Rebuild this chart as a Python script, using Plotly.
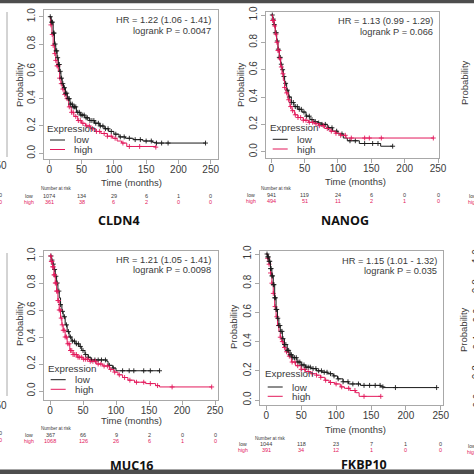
import numpy as np
import plotly.graph_objects as go

W = H = 474

# ---------------- data ----------------
GENES = ["CLDN4", "NANOG", "MUC16", "FKBP10"]
HR_TEXT = ["HR = 1.22 (1.06 - 1.41)", "HR = 1.13 (0.99 - 1.29)",
           "HR = 1.21 (1.05 - 1.41)", "HR = 1.15 (1.01 - 1.32)"]
P_TEXT = ["logrank P = 0.0047", "logrank P = 0.066",
          "logrank P = 0.0098", "logrank P = 0.035"]
TIME_TICKS = [0, 50, 100, 150, 200, 250]
PROB_TICKS = [0.0, 0.2, 0.4, 0.6, 0.8, 1.0]
PROB_LABELS = ["0.0", "0.2", "0.4", "0.6", "0.8", "1.0"]

RISK_LOW = [[1074, 134, 29, 6, 1, 0], [941, 119, 24, 6, 0, 0],
            [367, 66, 9, 2, 0, 0], [1044, 118, 23, 7, 1, 0]]
RISK_HIGH = [[361, 38, 6, 2, 0, 0], [494, 51, 11, 2, 1, 0],
             [1068, 126, 26, 6, 1, 0], [391, 34, 12, 1, 0, 0]]

# CLDN4
cldn4_low_t = [0, 3, 6, 8, 10, 12, 14, 16, 18, 20, 22, 25, 28, 32, 36, 42, 48, 55, 62, 70, 78, 85, 92, 100, 108, 118, 130, 145, 160, 165, 242]
cldn4_low_s = [1.0, 0.96, 0.88, 0.80, 0.75, 0.70, 0.65, 0.60, 0.55, 0.51, 0.48, 0.44, 0.40, 0.36, 0.34, 0.30, 0.28, 0.26, 0.24, 0.22, 0.20, 0.18, 0.16, 0.14, 0.12, 0.11, 0.10, 0.09, 0.08, 0.075, 0.075]
cldn4_high_t = [0, 2, 4, 6, 8, 10, 12, 14, 16, 18, 20, 23, 26, 30, 34, 38, 44, 50, 56, 64, 72, 80, 90, 98, 105, 112, 120, 165]
cldn4_high_s = [1.0, 0.94, 0.87, 0.79, 0.73, 0.68, 0.64, 0.60, 0.55, 0.51, 0.47, 0.43, 0.40, 0.34, 0.30, 0.27, 0.24, 0.22, 0.20, 0.18, 0.16, 0.145, 0.125, 0.11, 0.09, 0.075, 0.05, 0.045]
cldn4_low_cens = [1.5, 3.5, 5, 6.5, 7.5, 9, 10.5, 11.5, 13, 14.5, 15.5, 17, 19, 21, 23.5, 25, 27, 29.5, 31, 33, 35.5, 37, 39, 41, 44, 46.5, 49, 51, 54, 57, 59, 63, 66, 69, 72, 76, 79, 83, 87, 91, 96, 103, 110, 116, 124, 133, 141, 150, 158, 166, 174, 184, 242]
cldn4_high_cens = [2.5, 4.5, 6, 8.5, 10, 12, 13.5, 16, 18.5, 21, 24, 27.5, 31, 34.5, 37, 41, 45, 48, 52, 58, 62, 67, 73, 78, 85, 90, 96, 102, 114, 124, 140, 165]

# NANOG
nanog_low_t = [0, 2, 4, 6, 8, 10, 12, 14, 16, 18, 20, 23, 26, 30, 34, 40, 46, 52, 58, 64, 70, 76, 84, 92, 100, 108, 114, 132, 164, 182]
nanog_low_s = [1.0, 0.97, 0.93, 0.87, 0.81, 0.75, 0.69, 0.64, 0.60, 0.55, 0.50, 0.45, 0.40, 0.36, 0.33, 0.31, 0.29, 0.26, 0.235, 0.22, 0.21, 0.20, 0.175, 0.15, 0.13, 0.10, 0.08, 0.06, 0.04, 0.04]
nanog_high_t = [0, 2, 4, 6, 8, 10, 12, 14, 16, 18, 20, 22, 25, 28, 31, 35, 40, 48, 56, 64, 72, 80, 88, 96, 104, 112, 243]
nanog_high_s = [1.0, 0.96, 0.92, 0.86, 0.80, 0.74, 0.68, 0.62, 0.57, 0.52, 0.47, 0.43, 0.38, 0.33, 0.30, 0.27, 0.25, 0.23, 0.215, 0.205, 0.19, 0.17, 0.15, 0.135, 0.12, 0.10, 0.10]
nanog_low_cens = [1.5, 3, 4.5, 6, 7.5, 9, 10.5, 12, 13.5, 15, 17, 19, 21.5, 24, 27, 30, 33, 36, 39, 42, 45, 49, 53, 57, 61, 66, 71, 76, 81, 86, 91, 98, 106, 118, 126, 140, 152, 160, 182]
nanog_high_cens = [2, 3.5, 5, 7, 8.5, 10, 11.5, 13, 15, 17.5, 20, 23, 26, 29, 32, 36, 40, 44, 48, 52, 57, 62, 67, 72, 78, 84, 90, 97, 104, 111, 120, 140, 147, 165, 243]

# MUC16
muc16_low_t = [0, 2, 4, 6, 8, 10, 12, 14, 16, 18, 20, 23, 26, 29, 33, 38, 44, 48, 53, 58, 62, 86, 88, 95, 100, 166]
muc16_low_s = [1.0, 0.97, 0.94, 0.90, 0.85, 0.80, 0.74, 0.69, 0.64, 0.59, 0.55, 0.49, 0.44, 0.40, 0.37, 0.35, 0.33, 0.30, 0.27, 0.25, 0.23, 0.22, 0.19, 0.17, 0.15, 0.15]
muc16_high_t = [0, 2, 4, 6, 8, 10, 12, 14, 16, 18, 20, 23, 26, 30, 35, 42, 50, 60, 70, 80, 90, 97, 103, 110, 118, 128, 145, 160, 166, 245]
muc16_high_s = [1.0, 0.96, 0.92, 0.86, 0.80, 0.74, 0.67, 0.60, 0.54, 0.49, 0.45, 0.40, 0.35, 0.30, 0.27, 0.25, 0.235, 0.22, 0.20, 0.185, 0.16, 0.14, 0.12, 0.10, 0.08, 0.065, 0.055, 0.04, 0.03, 0.03]
muc16_low_cens = [1.5, 3, 5, 7, 9, 11, 13.5, 16, 19, 22, 25, 28, 31, 34, 37, 40, 43, 46, 50, 54, 58, 63, 68, 73, 78, 84, 90, 96, 110, 120, 127, 142, 152, 166]
muc16_high_cens = [1, 2, 3, 4, 5, 6, 7, 8, 9, 10, 11, 12, 13, 14, 15.5, 17, 18.5, 20, 21.5, 23, 25, 27, 29, 31, 33, 35, 37.5, 40, 42.5, 45, 48, 51, 54, 57, 61, 65, 69, 73, 77, 82, 87, 92, 98, 105, 113, 121, 131, 142, 152, 163, 185, 245]

# FKBP10
fkbp10_low_t = [0, 2, 4, 6, 8, 10, 12, 14, 16, 18, 20, 23, 26, 30, 34, 38, 44, 50, 56, 64, 72, 80, 88, 96, 102, 110, 118, 135, 164, 168, 244]
fkbp10_low_s = [1.0, 0.98, 0.95, 0.90, 0.85, 0.79, 0.70, 0.62, 0.56, 0.51, 0.47, 0.42, 0.38, 0.34, 0.31, 0.29, 0.26, 0.24, 0.225, 0.215, 0.20, 0.19, 0.18, 0.165, 0.145, 0.125, 0.11, 0.10, 0.09, 0.085, 0.085]
fkbp10_high_t = [0, 2, 4, 6, 8, 10, 12, 14, 16, 18, 20, 22, 25, 28, 32, 36, 42, 50, 56, 64, 72, 78, 84, 90, 98, 106, 112, 120, 128, 133, 164]
fkbp10_high_s = [1.0, 0.97, 0.93, 0.87, 0.80, 0.73, 0.64, 0.57, 0.51, 0.47, 0.43, 0.40, 0.36, 0.33, 0.30, 0.26, 0.235, 0.21, 0.195, 0.18, 0.17, 0.155, 0.135, 0.12, 0.11, 0.09, 0.08, 0.065, 0.05, 0.025, 0.025]
fkbp10_low_cens = [1, 2, 3, 4, 5, 6, 7, 8, 9, 10, 11, 12, 13, 14, 15, 16.5, 18, 19.5, 21, 22.5, 24, 26, 28, 30, 32, 34, 36, 38, 40.5, 43, 45.5, 48, 51, 54, 57, 60, 63, 67, 71, 75, 79, 83, 87, 92, 97, 103, 110, 117, 124, 132, 140, 148, 156, 163, 167, 185, 244]
fkbp10_high_cens = [2, 4, 6, 8, 10, 12.5, 15, 17.5, 20, 23, 26, 29, 33, 37, 41, 45, 50, 55, 60, 66, 72, 78, 85, 92, 100, 108, 118, 127, 140, 164]

CURVES = [
    (cldn4_low_t, cldn4_low_s, cldn4_low_cens, cldn4_high_t, cldn4_high_s, cldn4_high_cens),
    (nanog_low_t, nanog_low_s, nanog_low_cens, nanog_high_t, nanog_high_s, nanog_high_cens),
    (muc16_low_t, muc16_low_s, muc16_low_cens, muc16_high_t, muc16_high_s, muc16_high_cens),
    (fkbp10_low_t, fkbp10_low_s, fkbp10_low_cens, fkbp10_high_t, fkbp10_high_s, fkbp10_high_cens),
]

# ---------------- layout (pixels) ----------------
PANELS = [
    dict(box=(44, 218, 10, 159), xt=(49.3, 210.7), yt=(16.7, 153.3),
         xlab_y=182, xlab_x=131, ylab_x=19, ylab_y=85, nar=(56, 188), rows=(195.5, 202), rowlab_x=29,
         title=(119, 221), hr=(213, 20, 31), leg=(46, 128, 140, 149.5)),
    dict(box=(266, 439, 12, 158), xt=(271.3, 438), yt=(15, 151.7),
         xlab_y=181, xlab_x=355, ylab_x=240, ylab_y=85, nar=(276, 188), rows=(194.5, 201), rowlab_x=251,
         title=(345, 221), hr=(434.7, 20.7, 31.7), leg=(268.7, 127.7, 139.3, 149)),
    dict(box=(44, 218, 251, 400), xt=(50, 215), yt=(256, 391),
         xlab_y=420, xlab_x=131.5, ylab_x=19, ylab_y=324, nar=(56.5, 428.5), rows=(434.7, 441), rowlab_x=28.5,
         title=(131.7, 465), hr=(213.3, 259.7, 270.3), leg=(46.7, 368, 379.7, 389.3)),
    dict(box=(260, 443, 251, 405), xt=(266.3, 440.8), yt=(254, 400),
         xlab_y=429.5, xlab_x=355, ylab_x=233, ylab_y=327, nar=(270, 438), rows=(444.3, 450.3), rowlab_x=243,
         title=(363.7, 464.5), hr=(439.3, 261, 271.3), leg=(263.7, 373.7, 387, 396.3)),
]

LOW_C = "#1a1a1a"
HIGH_C = "#e3195b"
TXT = "#3a3a3a"
AXC = "#a8a8a8"
BAND = "#4d4d4d"
FONT = "Liberation Sans"

fig = go.Figure()
annotations = []
shapes = []


def px(x):
    return x / W


def py(y):
    return 1 - y / H


def ann(x, y, text, size=9.5, color=TXT, xanchor="center", angle=0, family=FONT, xref="paper"):
    annotations.append(dict(x=x if xref != "paper" else px(x), y=py(y), xref=xref, yref="paper",
                            text=text, showarrow=False, xanchor=xanchor, yanchor="middle",
                            textangle=angle, font=dict(size=size, color=color, family=family)))


# white page between the dark bands at top and bottom
shapes.append(dict(type="rect", xref="paper", yref="paper", x0=0, x1=1, y0=py(469.5), y1=py(3.2),
                   fillcolor="white", line=dict(width=0), layer="below"))

layout_axes = {}
for i, p in enumerate(PANELS):
    n = "" if i == 0 else str(i + 1)
    x0, x1, yt0, yb = p["box"]
    sx = (p["xt"][1] - p["xt"][0]) / 250.0
    xr = [(x0 - p["xt"][0]) / sx, (x1 - p["xt"][0]) / sx]
    sy = p["yt"][1] - p["yt"][0]
    yr = [(p["yt"][1] - yb) / sy, (p["yt"][1] - yt0) / sy]
    common = dict(showline=True, mirror=True, linecolor=AXC, linewidth=1, ticks="outside",
                  ticklen=4, tickcolor=AXC, tickwidth=1, showgrid=False, zeroline=False,
                  tickfont=dict(size=10, color=TXT, family=FONT), fixedrange=True, automargin=False)
    layout_axes["xaxis" + n] = dict(domain=[px(x0), px(x1)], range=xr, anchor="y" + n,
                                     tickvals=TIME_TICKS, ticklabelstandoff=-3, **common)
    layout_axes["yaxis" + n] = dict(domain=[py(yb), py(yt0)], range=yr, anchor="x" + n,
                                     tickvals=PROB_TICKS, ticktext=PROB_LABELS, tickangle=-90, **common)

    lt, ls, lc, ht, hs, hc = CURVES[i]
    order = [("high", ht, hs, hc, HIGH_C), ("low", lt, ls, lc, LOW_C)]
    if i in (1, 2):
        order = order[::-1]
    for name, t, s, c, col in order:
        t_arr = np.array(t, dtype=float)
        s_arr = np.array(s, dtype=float)
        fig.add_trace(go.Scatter(x=t, y=s, mode="lines", line=dict(shape="hv", color=col, width=1.0),
                                 xaxis="x" + n, yaxis="y" + n, showlegend=False, hoverinfo="skip"))
        c_arr = np.array(c, dtype=float)
        idx = np.clip(np.searchsorted(t_arr, c_arr, side="right") - 1, 0, len(s_arr) - 1)
        fig.add_trace(go.Scatter(x=c_arr, y=s_arr[idx], mode="markers",
                                 marker=dict(symbol="cross-thin", size=3.5, line=dict(color=col, width=0.9)),
                                 xaxis="x" + n, yaxis="y" + n, showlegend=False, hoverinfo="skip"))

    ann(p["xlab_x"], p["xlab_y"], "Time (months)", size=9.5)
    ann(p["ylab_x"], p["ylab_y"], "Probability", size=9.5, angle=-90)
    hx, hy1, hy2 = p["hr"]
    ann(hx, hy1, HR_TEXT[i], size=9.3, xanchor="right")
    ann(hx, hy2, P_TEXT[i], size=9.3, xanchor="right")
    lx, ey, ly, hy = p["leg"]
    ann(lx - 1, ey, "Expression", size=9.8, xanchor="left")
    for yy, col, lab in [(ly, LOW_C, "low"), (hy, HIGH_C, "high")]:
        shapes.append(dict(type="line", xref="paper", yref="paper", x0=px(lx + 4), x1=px(lx + 19),
                           y0=py(yy), y1=py(yy), line=dict(color=col, width=1)))
        ann(lx + 26, yy, lab, size=9.8, xanchor="left")
    ann(p["nar"][0], p["nar"][1], "Number at risk", size=4.6)
    ann(p["rowlab_x"], p["rows"][0], "low", size=5.2, color=TXT)
    ann(p["rowlab_x"], p["rows"][1], "high", size=5.2, color=HIGH_C)
    for k, tv in enumerate(TIME_TICKS):
        ann(tv, p["rows"][0], str(RISK_LOW[i][k]), size=5.5, color=TXT, xref="x" + n)
        ann(tv, p["rows"][1], str(RISK_HIGH[i][k]), size=5.5, color=HIGH_C, xref="x" + n)
    ann(p["title"][0], p["title"][1], "<b>" + GENES[i] + "</b>", size=12.5, color="#111111",
        family="Open Sans")

# ---- fragments of neighbouring panels at the image edges ----
for (ya, yb_) in [(12, 157), (253, 396)]:
    shapes.append(dict(type="line", xref="paper", yref="paper", x0=px(7), x1=px(7),
                       y0=py(ya), y1=py(yb_), line=dict(color=AXC, width=1)))
ann(8.5, 166, "250", size=10, xanchor="right")
ann(8.5, 405, "250", size=10, xanchor="right")
ann(0.5, 195, "0", size=5.5)
ann(0.5, 201.5, "0", size=5.5, color=HIGH_C)
ann(0.5, 433, "0", size=5.5)
ann(0.5, 439.5, "0", size=5.5, color=HIGH_C)
ann(465, 83, "Probability", size=9.5, angle=-90)
ann(463, 330, "Probability", size=9.5, angle=-90)
ann(467, 196, "low", size=5.2, xanchor="left")
ann(466, 201.7, "high", size=5.2, color=HIGH_C, xanchor="left")
ann(466, 446, "low", size=5.2, xanchor="left")
ann(465, 452, "high", size=5.2, color=HIGH_C, xanchor="left")
for yy, lab in zip([401, 372.7, 343, 316, 286.7, 256.7], PROB_LABELS):
    ann(476.5, yy, lab, size=10, angle=-90)

fig.update_layout(width=W, height=H, margin=dict(l=0, r=0, t=0, b=0, autoexpand=False),
                  paper_bgcolor=BAND, plot_bgcolor="white",
                  annotations=annotations, shapes=shapes, **layout_axes)

POST = ("var d=document.getElementById('{plot_id}');"
        "d.style.overflow='hidden';"
        "document.body.style.margin='0';document.body.style.overflow='hidden';"
        "document.documentElement.style.overflow='hidden';")

fig.write_html("out.html", config={"displayModeBar": False}, post_script=POST)
